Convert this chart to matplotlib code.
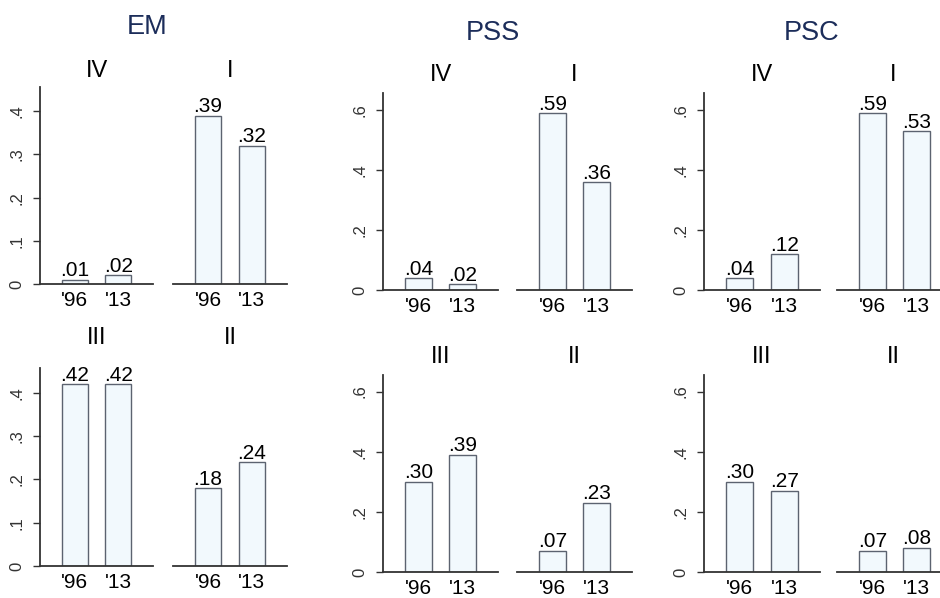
import matplotlib
matplotlib.use('Agg')
import matplotlib.pyplot as plt

plt.rcParams['font.family'] = ['Liberation Sans', 'DejaVu Sans']

years = ["'96", "'13"]

# EM
em_iv = [0.01, 0.02]
em_i = [0.39, 0.32]
em_iii = [0.42, 0.42]
em_ii = [0.18, 0.24]

# PSS
pss_iv = [0.04, 0.02]
pss_i = [0.59, 0.36]
pss_iii = [0.30, 0.39]
pss_ii = [0.07, 0.23]

# PSC
psc_iv = [0.04, 0.12]
psc_i = [0.59, 0.53]
psc_iii = [0.30, 0.27]
psc_ii = [0.07, 0.08]

em_ticks = [0, 0.1, 0.2, 0.3, 0.4]
em_ticklabels = ['0', '.1', '.2', '.3', '.4']
ps_ticks = [0, 0.2, 0.4, 0.6]
ps_ticklabels = ['0', '.2', '.4', '.6']

W, H = 940, 598
BAR_FILL = '#f2f9fd'
BAR_EDGE = '#5c6370'
AXIS_COL = '#333333'
TITLE_COL = '#1c2d5a'

fig = plt.figure(figsize=(W / 100, H / 100), dpi=100)


def px_axes(x0, x1, ybase, ytop):
    return fig.add_axes([x0 / W, (H - ybase) / H, (x1 - x0) / W, (ybase - ytop) / H])


def px_text(x, y, s, size, color='black'):
    fig.text(x / W, (H - y) / H, s, ha='center', va='center', fontsize=size, color=color)


def panel(x0, x1, ybase, ytop, values, ymax, ticks, ticklabels, show_y):
    ax = px_axes(x0, x1, ybase, ytop)
    pos = [0, 1]
    ax.bar(pos, values, width=0.6, color=BAR_FILL, edgecolor=BAR_EDGE, linewidth=1.0)
    for p, v in zip(pos, values):
        ax.annotate(f'{v:.2f}'.lstrip('0'), xy=(p, v), xytext=(0, 2.5),
                    textcoords='offset points', ha='center', va='baseline', fontsize=15)
    ax.set_xlim(-0.8, 1.8)
    ax.set_ylim(0, ymax)
    ax.set_xticks(pos)
    ax.set_xticklabels(years, fontsize=15)
    ax.tick_params(axis='x', length=0, pad=5)
    for s in ['top', 'right']:
        ax.spines[s].set_visible(False)
    ax.spines['bottom'].set_color(AXIS_COL)
    ax.spines['bottom'].set_linewidth(1.3)
    if show_y:
        ax.spines['left'].set_color(AXIS_COL)
        ax.spines['left'].set_linewidth(1.3)
        ax.set_yticks(ticks)
        ax.set_yticklabels(ticklabels, fontsize=12, color='#333333')
        ax.tick_params(axis='y', length=5, width=1.0, color=AXIS_COL, pad=6,
                       labelrotation=90)
        for lab in ax.get_yticklabels():
            lab.set_va('center')
    else:
        ax.spines['left'].set_visible(False)
        ax.set_yticks([])
    ax.patch.set_alpha(0)
    return ax


# EM block
panel(40, 153, 284, 87, em_iv, 0.456, em_ticks, em_ticklabels, True)
panel(173, 287, 284, 87, em_i, 0.456, em_ticks, em_ticklabels, False)
panel(40, 153, 566, 368, em_iii, 0.457, em_ticks, em_ticklabels, True)
panel(173, 287, 566, 368, em_ii, 0.457, em_ticks, em_ticklabels, False)
px_text(147, 27, 'EM', 19.5, TITLE_COL)
px_text(97, 71, 'IV', 17)
px_text(230, 71, 'I', 17)
px_text(97, 338, 'III', 17)
px_text(230, 338, 'II', 17)

# PSS block
panel(383, 498, 290, 93, pss_iv, 0.657, ps_ticks, ps_ticklabels, True)
panel(517, 632, 290, 93, pss_i, 0.657, ps_ticks, ps_ticklabels, False)
panel(383, 498, 572, 375, pss_iii, 0.655, ps_ticks, ps_ticklabels, True)
panel(517, 632, 572, 375, pss_ii, 0.655, ps_ticks, ps_ticklabels, False)
px_text(493, 33, 'PSS', 19.5, TITLE_COL)
px_text(441, 75, 'IV', 17)
px_text(574, 75, 'I', 17)
px_text(441, 357, 'III', 17)
px_text(574, 357, 'II', 17)

# PSC block
panel(704, 820, 290, 93, psc_iv, 0.657, ps_ticks, ps_ticklabels, True)
panel(837, 952, 290, 93, psc_i, 0.657, ps_ticks, ps_ticklabels, False)
panel(704, 820, 572, 375, psc_iii, 0.655, ps_ticks, ps_ticklabels, True)
panel(837, 952, 572, 375, psc_ii, 0.655, ps_ticks, ps_ticklabels, False)
px_text(812, 33, 'PSC', 19.5, TITLE_COL)
px_text(762, 75, 'IV', 17)
px_text(893, 75, 'I', 17)
px_text(762, 357, 'III', 17)
px_text(893, 357, 'II', 17)

fig.savefig('out.png', dpi=100)
